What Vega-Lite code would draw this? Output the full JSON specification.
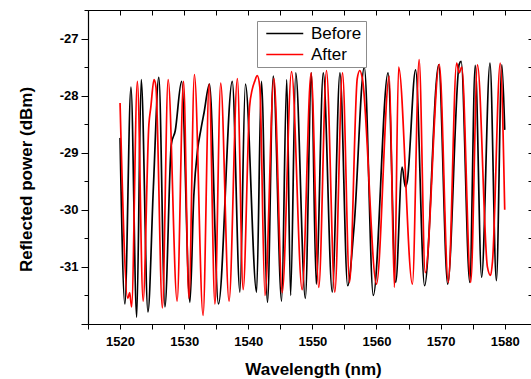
{
  "$schema": "https://vega.github.io/schema/vega-lite/v6.json",
  "width": 443,
  "height": 314,
  "autosize": {"type": "none"},
  "padding": {"left": 88, "top": 10, "right": 0, "bottom": 55},
  "config": {
    "view": {"stroke": null},
    "font": "Liberation Sans",
    "axis": {"grid": false, "domainColor": "#000000", "tickColor": "#000000", "domainWidth": 1.2, "tickWidth": 1, "labelColor": "#000000", "titleColor": "#000000"}
  },
  "data": {"values": [
    {"s":"Before","x":1520.0,"y":-28.74},{"s":"Before","x":1520.75,"y":-31.65},{"s":"Before","x":1521.7,"y":-27.85},{"s":"Before","x":1522.6,"y":-31.88},{"s":"Before","x":1523.3,"y":-27.72},{"s":"Before","x":1524.35,"y":-31.79},{"s":"Before","x":1525.2,"y":-29.6},{"s":"Before","x":1526.05,"y":-27.68},{"s":"Before","x":1527.0,"y":-31.7},{"s":"Before","x":1528.0,"y":-28.85},{"s":"Before","x":1528.6,"y":-28.62},{"s":"Before","x":1529.6,"y":-27.75},{"s":"Before","x":1530.9,"y":-31.62},{"s":"Before","x":1531.5,"y":-29.76},{"s":"Before","x":1532.1,"y":-28.94},{"s":"Before","x":1532.6,"y":-28.6},{"s":"Before","x":1533.1,"y":-28.3},{"s":"Before","x":1533.95,"y":-27.8},{"s":"Before","x":1535.35,"y":-31.65},{"s":"Before","x":1537.5,"y":-27.75},{"s":"Before","x":1538.7,"y":-31.44},{"s":"Before","x":1539.55,"y":-27.8},{"s":"Before","x":1541.3,"y":-31.44},{"s":"Before","x":1542.05,"y":-27.75},{"s":"Before","x":1543.0,"y":-31.62},{"s":"Before","x":1543.9,"y":-27.66},{"s":"Before","x":1545.2,"y":-31.6},{"s":"Before","x":1546.0,"y":-27.72},{"s":"Before","x":1546.6,"y":-31.5},{"s":"Before","x":1547.4,"y":-27.6},{"s":"Before","x":1548.9,"y":-31.55},{"s":"Before","x":1549.85,"y":-27.6},{"s":"Before","x":1550.6,"y":-31.3},{"s":"Before","x":1551.7,"y":-27.6},{"s":"Before","x":1553.1,"y":-31.44},{"s":"Before","x":1554.3,"y":-27.6},{"s":"Before","x":1555.5,"y":-31.33},{"s":"Before","x":1556.5,"y":-30.3},{"s":"Before","x":1558.1,"y":-27.5},{"s":"Before","x":1559.5,"y":-31.5},{"s":"Before","x":1561.8,"y":-27.6},{"s":"Before","x":1563.0,"y":-31.27},{"s":"Before","x":1564.0,"y":-29.25},{"s":"Before","x":1564.5,"y":-29.6},{"s":"Before","x":1564.8,"y":-29.5},{"s":"Before","x":1566.1,"y":-27.55},{"s":"Before","x":1567.5,"y":-31.33},{"s":"Before","x":1569.7,"y":-27.46},{"s":"Before","x":1571.1,"y":-31.3},{"s":"Before","x":1572.9,"y":-27.45},{"s":"Before","x":1573.2,"y":-27.4},{"s":"Before","x":1574.55,"y":-31.27},{"s":"Before","x":1575.4,"y":-27.47},{"s":"Before","x":1576.4,"y":-31.18},{"s":"Before","x":1577.7,"y":-27.43},{"s":"Before","x":1578.7,"y":-31.24},{"s":"Before","x":1579.55,"y":-27.46},{"s":"Before","x":1580.0,"y":-28.6},
    {"s":"After","x":1520.0,"y":-28.13},{"s":"After","x":1521.2,"y":-31.55},{"s":"After","x":1521.5,"y":-31.45},{"s":"After","x":1521.8,"y":-31.7},{"s":"After","x":1522.7,"y":-27.75},{"s":"After","x":1523.6,"y":-31.6},{"s":"After","x":1524.5,"y":-28.5},{"s":"After","x":1524.8,"y":-28.2},{"s":"After","x":1525.3,"y":-27.72},{"s":"After","x":1525.6,"y":-27.85},{"s":"After","x":1526.6,"y":-31.72},{"s":"After","x":1527.5,"y":-27.72},{"s":"After","x":1528.9,"y":-31.6},{"s":"After","x":1529.9,"y":-27.75},{"s":"After","x":1530.75,"y":-31.55},{"s":"After","x":1531.6,"y":-27.63},{"s":"After","x":1532.95,"y":-31.85},{"s":"After","x":1533.9,"y":-27.8},{"s":"After","x":1534.8,"y":-31.65},{"s":"After","x":1535.7,"y":-27.78},{"s":"After","x":1537.0,"y":-31.6},{"s":"After","x":1538.3,"y":-27.7},{"s":"After","x":1539.2,"y":-31.4},{"s":"After","x":1540.2,"y":-28.2},{"s":"After","x":1540.6,"y":-27.9},{"s":"After","x":1541.0,"y":-27.75},{"s":"After","x":1541.4,"y":-27.65},{"s":"After","x":1541.8,"y":-27.85},{"s":"After","x":1542.6,"y":-31.5},{"s":"After","x":1544.0,"y":-27.7},{"s":"After","x":1545.3,"y":-31.45},{"s":"After","x":1546.75,"y":-27.58},{"s":"After","x":1548.4,"y":-31.4},{"s":"After","x":1549.8,"y":-27.6},{"s":"After","x":1551.0,"y":-31.36},{"s":"After","x":1552.2,"y":-27.56},{"s":"After","x":1553.5,"y":-31.44},{"s":"After","x":1554.7,"y":-27.6},{"s":"After","x":1555.8,"y":-31.27},{"s":"After","x":1557.0,"y":-27.7},{"s":"After","x":1557.4,"y":-27.56},{"s":"After","x":1557.8,"y":-27.7},{"s":"After","x":1560.0,"y":-31.3},{"s":"After","x":1562.0,"y":-27.66},{"s":"After","x":1562.8,"y":-31.36},{"s":"After","x":1563.45,"y":-27.5},{"s":"After","x":1565.6,"y":-31.3},{"s":"After","x":1566.65,"y":-27.37},{"s":"After","x":1567.6,"y":-31.1},{"s":"After","x":1569.8,"y":-27.45},{"s":"After","x":1571.2,"y":-31.27},{"s":"After","x":1572.5,"y":-27.43},{"s":"After","x":1572.9,"y":-27.6},{"s":"After","x":1573.3,"y":-27.5},{"s":"After","x":1574.7,"y":-31.27},{"s":"After","x":1575.75,"y":-27.46},{"s":"After","x":1577.3,"y":-31.0},{"s":"After","x":1577.8,"y":-31.15},{"s":"After","x":1578.1,"y":-30.9},{"s":"After","x":1579.3,"y":-27.43},{"s":"After","x":1580.0,"y":-30.0}
  ]},
  "layer": [
    {
      "mark": {"type": "line", "strokeWidth": 1.7, "interpolate": "monotone"},
      "encoding": {
        "x": {"field": "x", "type": "quantitative", "scale": {"domain": [1515, 1584.1], "nice": false, "zero": false},
          "axis": {"orient": "bottom", "values": [1515,1520,1525,1530,1535,1540,1545,1550,1555,1560,1565,1570,1575,1580],
            "labelExpr": "datum.value % 10 == 0 ? '' + datum.value : ''",
            "tickSize": 5, "labelPadding": 6, "labelFontSize": 13, "labelFontWeight": "bold", "labelFont": "Liberation Sans",
            "title": "Wavelength (nm)", "titleFontSize": 17, "titleFontWeight": "bold", "titleFont": "Liberation Sans",
            "titleX": 225, "titleY": 50, "titleBaseline": "alphabetic", "titleAlign": "center"}},
        "y": {"field": "y", "type": "quantitative", "scale": {"domain": [-32, -26.5], "nice": false, "zero": false},
          "axis": {"orient": "left", "values": [-32,-31.5,-31,-30.5,-30,-29.5,-29,-28.5,-28,-27.5,-27,-26.5],
            "labelExpr": "datum.value % 1 == 0 && datum.value > -32 ? '' + datum.value : ''",
            "tickSize": {"condition": {"test": "datum.value % 1 == 0", "value": 7}, "value": 4},
            "labelPadding": 3, "labelFontSize": 13, "labelFontWeight": "bold", "labelFont": "Liberation Sans",
            "title": "Reflected power (dBm)", "titleFontSize": 17, "titleFontWeight": "bold", "titleFont": "Liberation Sans",
            "titleX": -57, "titleY": 169, "titleAngle": 270, "titleBaseline": "alphabetic", "titleAlign": "center"}},
        "color": {"field": "s", "type": "nominal",
          "scale": {"domain": ["Before", "After"], "range": ["#000000", "#ff0000"]},
          "legend": {"orient": "none", "legendX": 169, "legendY": 11, "title": null,
            "strokeColor": "#8c8c8c", "fillColor": "#ffffff", "padding": 4,
            "symbolType": "M-0.43,0H4.5", "symbolSize": 225, "symbolStrokeWidth": 1.5,
            "labelOffset": 33, "labelFontSize": 17, "labelFont": "Liberation Sans", "labelColor": "#000000", "rowPadding": 3}}
      }
    },
    {
      "mark": {"type": "line", "opacity": 0},
      "encoding": {
        "x": {"field": "x", "type": "quantitative",
          "axis": {"orient": "top", "values": [1515,1520,1525,1530,1535,1540,1545,1550,1555,1560,1565,1570,1575,1580],
            "labels": false, "tickSize": -5, "title": null}},
        "y": {"field": "y", "type": "quantitative",
          "axis": {"orient": "right", "values": [-32,-31.5,-31,-30.5,-30,-29.5,-29,-28.5,-28,-27.5,-27,-26.5],
            "labels": false, "tickSize": -3, "domain": false, "title": null}},
        "detail": {"field": "s"}
      }
    }
  ],
  "resolve": {"axis": {"x": "independent", "y": "independent"}}
}
